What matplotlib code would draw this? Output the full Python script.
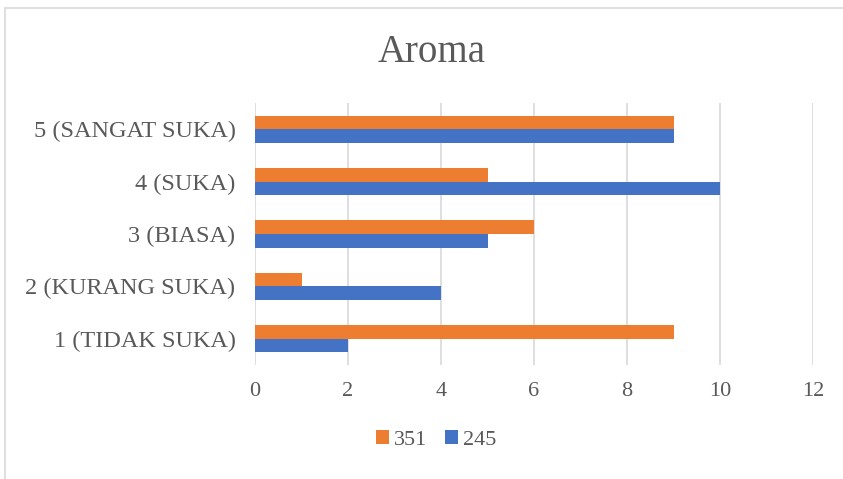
import matplotlib.pyplot as plt
import matplotlib.patches as patches
import numpy as np

categories = ["1 (TIDAK SUKA)", "2 (KURANG SUKA)", "3 (BIASA)", "4 (SUKA)", "5 (SANGAT SUKA)"]
s351 = [9, 1, 6, 5, 9]
s245 = [2, 4, 5, 10, 9]
xticks = [0, 2, 4, 6, 8, 10, 12]

plt.rcParams['font.family'] = ['Liberation Serif', 'DejaVu Serif']
TXT = '#595959'

fig = plt.figure(figsize=(8.43, 4.79), dpi=100)
# chart border
fig.patches.append(patches.Rectangle((5/843, -0.1), 1.0, 1 - 8/479 + 0.1, transform=fig.transFigure,
                                     fill=False, edgecolor='#D9D9D9', linewidth=1.2))

ax = fig.add_axes([255/843, 1 - 365/479, (813 - 255)/843, (365 - 103)/479])

y = np.arange(len(categories))
h = 0.26
ax.barh(y + h/2, s351, height=h, color='#ED7D31', label='351', zorder=3)
ax.barh(y - h/2, s245, height=h, color='#4472C4', label='245', zorder=3)

ax.set_xlim(0, 12)
ax.set_ylim(-0.5, len(categories) - 0.5)
ax.set_xticks(xticks)
ax.set_yticks(y)
ax.set_yticklabels(categories)
ax.tick_params(axis='both', length=0, colors=TXT)
ax.tick_params(axis='x', labelsize=16, pad=12)
ax.tick_params(axis='y', labelsize=17.5, pad=14)
ax.grid(axis='x', color='#D9D9D9', linewidth=1.2, zorder=0)
for s in ax.spines.values():
    s.set_visible(False)

fig.text(432/843, 1 - 52/479, 'Aroma', ha='center', va='center', fontsize=28, color=TXT)

leg = fig.legend(loc='center', bbox_to_anchor=(436/843, 1 - 440/479), ncol=2, frameon=False,
                 fontsize=16, handlelength=0.6, handleheight=0.6, handletextpad=0.2,
                 columnspacing=0.8, labelcolor=TXT)

fig.savefig('out.png', dpi=100)
